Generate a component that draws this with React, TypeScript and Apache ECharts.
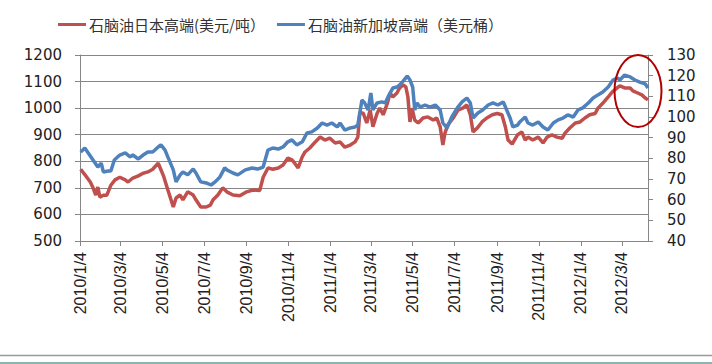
import React, { useEffect, useRef } from "react";
import * as echarts from "echarts";

const legendNames = ["石脑油日本高端(美元/吨）", "石脑油新加坡高端（美元桶）"];

const tickDates = [
  "2010/1/4", "2010/3/4", "2010/5/4", "2010/7/4", "2010/9/4", "2010/11/4",
  "2011/1/4", "2011/3/4", "2011/5/4", "2011/7/4", "2011/9/4", "2011/11/4",
  "2012/1/4", "2012/3/4",
];

const redDates = [
  "2010/01/05","2010/01/11","2010/01/19","2010/01/23","2010/01/27","2010/01/30","2010/02/02","2010/02/07","2010/02/12","2010/02/18",
  "2010/02/24","2010/03/03","2010/03/11","2010/03/15","2010/03/22","2010/03/30","2010/04/06","2010/04/13","2010/04/20","2010/04/28",
  "2010/05/02","2010/05/06","2010/05/12","2010/05/20","2010/05/24","2010/05/30","2010/06/03","2010/06/10","2010/06/18","2010/06/22",
  "2010/06/29","2010/07/07","2010/07/13","2010/07/17","2010/07/24","2010/07/31","2010/08/06","2010/08/15","2010/08/25","2010/09/04",
  "2010/09/13","2010/09/23","2010/09/28","2010/10/05","2010/10/12","2010/10/20","2010/10/27","2010/11/03","2010/11/09","2010/11/13",
  "2010/11/18","2010/11/24","2010/11/28","2010/12/05","2010/12/13","2010/12/20","2010/12/27","2011/01/03","2011/01/11","2011/01/18",
  "2011/01/25","2011/02/02","2011/02/09","2011/02/13","2011/02/16","2011/02/21","2011/02/26","2011/03/03","2011/03/07","2011/03/13",
  "2011/03/17","2011/03/22","2011/03/28","2011/04/01","2011/04/05","2011/04/11","2011/04/15","2011/04/20","2011/04/24","2011/04/27",
  "2011/04/30","2011/05/03","2011/05/07","2011/05/12","2011/05/19","2011/05/26","2011/06/03","2011/06/08","2011/06/13","2011/06/17",
  "2011/06/20","2011/06/24","2011/07/02","2011/07/09","2011/07/16","2011/07/22","2011/07/27","2011/07/31","2011/08/06","2011/08/13",
  "2011/08/20","2011/08/28","2011/09/04","2011/09/11","2011/09/16","2011/09/20","2011/09/26","2011/10/04","2011/10/10","2011/10/15",
  "2011/10/19","2011/10/26","2011/11/03","2011/11/10","2011/11/16","2011/11/23","2011/11/30","2011/12/08","2011/12/12","2011/12/19",
  "2011/12/27","2012/01/03","2012/01/10","2012/01/17","2012/01/25","2012/01/29","2012/02/05","2012/02/13","2012/02/19","2012/02/26",
  "2012/03/01","2012/03/08","2012/03/16","2012/03/20","2012/03/27","2012/04/02","2012/04/07","2012/04/11",
];
const redValues = [
  770,750,722,700,673,703,665,672,672,710,
  730,740,730,722,737,745,755,760,770,793,
  768,743,693,628,662,673,655,685,673,655,
  628,628,635,655,673,700,685,673,670,685,
  692,690,740,775,770,775,786,812,805,793,
  775,817,835,850,873,891,880,887,869,873,
  853,861,873,891,985,980,944,993,930,980,
  1000,975,1018,1057,1042,1057,1076,1087,1080,1042,
  948,1000,955,944,963,967,955,963,930,861,
  906,936,963,993,1000,1012,975,910,925,948,
  963,975,980,975,930,880,865,900,910,880,
  891,880,891,869,891,900,891,887,906,925,
  944,948,963,975,980,1000,1018,1042,1061,1076,
  1084,1076,1076,1065,1057,1050,1038,1031,
];

const blueDates = [
  "2010/01/05","2010/01/11","2010/01/16","2010/01/23","2010/01/30","2010/02/04","2010/02/07","2010/02/14","2010/02/18","2010/02/23",
  "2010/03/03","2010/03/11","2010/03/18","2010/03/22","2010/03/30","2010/04/06","2010/04/13","2010/04/20","2010/04/28","2010/05/02",
  "2010/05/08","2010/05/12","2010/05/20","2010/05/24","2010/05/30","2010/06/03","2010/06/10","2010/06/18","2010/06/22","2010/06/29",
  "2010/07/07","2010/07/14","2010/07/20","2010/07/27","2010/08/03","2010/08/06","2010/08/15","2010/08/22","2010/09/02","2010/09/12",
  "2010/09/20","2010/09/28","2010/10/05","2010/10/12","2010/10/20","2010/10/27","2010/11/03","2010/11/09","2010/11/16","2010/11/24",
  "2010/12/01","2010/12/08","2010/12/16","2010/12/23","2010/12/30","2011/01/06","2011/01/14","2011/01/18","2011/01/25","2011/02/02",
  "2011/02/09","2011/02/13","2011/02/19","2011/02/23","2011/02/28","2011/03/04","2011/03/07","2011/03/13","2011/03/20","2011/03/25",
  "2011/03/29","2011/04/05","2011/04/11","2011/04/15","2011/04/20","2011/04/26","2011/04/30","2011/05/04","2011/05/07","2011/05/10",
  "2011/05/15","2011/05/22","2011/05/29","2011/06/06","2011/06/13","2011/06/17","2011/06/23","2011/06/30","2011/07/08","2011/07/15",
  "2011/07/22","2011/07/27","2011/07/31","2011/08/07","2011/08/14","2011/08/22","2011/08/29","2011/09/05","2011/09/13","2011/09/18",
  "2011/09/23","2011/09/27","2011/10/04","2011/10/07","2011/10/15","2011/10/19","2011/10/26","2011/11/03","2011/11/10","2011/11/17",
  "2011/11/25","2011/12/02","2011/12/09","2011/12/16","2011/12/24","2011/12/31","2012/01/07","2012/01/15","2012/01/22","2012/01/29",
  "2012/02/05","2012/02/13","2012/02/20","2012/02/26","2012/03/01","2012/03/08","2012/03/16","2012/03/23","2012/03/30","2012/04/07",
  "2012/04/11",
];
const blueValues = [
  83,85,82.6,79.2,75.8,77.7,73.4,73.9,73.9,79.2,
  81.6,82.6,80.7,81.6,79.7,81.6,83.1,83.1,85.5,86.5,
  84,80.7,74.4,68.6,72,73.4,72,74.9,72.9,68.6,
  68.1,67.1,68.6,71,75.4,74.4,72.9,72,74.4,75.3,
  74.8,75.8,84,85,84.5,85.5,88,88.9,86.5,88,
  92.3,92.8,94.7,97.1,96.1,97.1,95.2,97.1,93.7,94.7,
  95.2,96.1,108.2,106.8,103.4,111.6,103.4,106.8,107.3,106.8,
  109.7,114,114.5,115.5,117.4,119.8,117.9,114.5,103.4,106.8,
  104.8,105.8,104.8,105.8,103.4,97.1,94.7,100,104.4,107.3,
  109.2,106.8,99.5,101.9,103.4,105.8,106.8,105.8,107.3,103.4,
  99.5,95.2,96.1,97.6,100,97.1,96.1,97.6,95.2,93.7,
  97.1,98.6,99.5,101,100,103.4,104.4,106.8,109.2,110.7,
  112.1,114.5,117.9,118.9,117.9,120.3,119.4,117.9,116.9,116,
  114,
];

const leftMin = 500, leftMax = 1200, leftStep = 100;
const rightMin = 40, rightMax = 130, rightStep = 10;
const xStart = "2010/01/04";
const xEnd = "2012/04/11";

function toTime(s: string) {
  const [y, m, d] = s.split("/").map(Number);
  return new Date(y, m - 1, d).getTime();
}

export default function App() {
  const ref = useRef<HTMLDivElement>(null);
  useEffect(() => {
    document.body.style.margin = "0";
    const chart = echarts.init(ref.current!, null, { renderer: "svg" });
    const tickValues = tickDates.map(toTime);
    const axisColor = "#868686";
    chart.setOption({
      animation: false,
      backgroundColor: "#ffffff",
      legend: {
        left: 53,
        top: 12,
        itemWidth: 28,
        itemHeight: 3,
        itemGap: 12,
        icon: "rect",
        textStyle: { fontFamily: "Noto Sans CJK SC", fontSize: 15, color: "#333333", padding: [0, 0, 0, -2] },
        data: legendNames,
      },
      grid: { left: 80, right: 64, top: 55, bottom: 123, containLabel: false },
      xAxis: {
        type: "value",
        min: toTime(xStart),
        max: toTime(xEnd),
        axisLine: { show: true, onZero: false, lineStyle: { color: axisColor } },
        axisTick: { show: true, length: 5, customValues: tickValues, lineStyle: { color: axisColor } },
        axisLabel: {
          customValues: tickValues,
          rotate: 90,
          margin: 11,
          fontFamily: "Liberation Sans",
          fontSize: 16,
          color: "#222222",
          formatter: (v: number) => {
            const d = new Date(v);
            return `${d.getFullYear()}/${d.getMonth() + 1}/${d.getDate()}`;
          },
        },
        splitLine: { show: false },
      },
      yAxis: [
        {
          type: "value",
          min: leftMin,
          max: leftMax,
          interval: leftStep,
          axisLine: { show: true, lineStyle: { color: axisColor } },
          axisTick: { show: true, length: 5, lineStyle: { color: axisColor } },
          axisLabel: { margin: 18, fontFamily: "DejaVu Sans", fontSize: 15, color: "#222222", formatter: (v: number) => String(v) },
          splitLine: { show: true, lineStyle: { color: axisColor, width: 1 } },
        },
        {
          type: "value",
          min: rightMin,
          max: rightMax,
          interval: rightStep,
          position: "right",
          axisLine: { show: true, lineStyle: { color: axisColor } },
          axisTick: { show: true, length: 5, lineStyle: { color: axisColor } },
          axisLabel: { margin: 19, fontFamily: "DejaVu Sans", fontSize: 15, color: "#222222", formatter: (v: number) => String(v) },
          splitLine: { show: false },
        },
      ],
      series: [
        {
          name: legendNames[0],
          type: "line",
          yAxisIndex: 0,
          showSymbol: false,
          color: "#C0504D",
          lineStyle: { width: 3.5, color: "#C0504D" },
          data: redDates.map((d, i) => [toTime(d), redValues[i]]),
        },
        {
          name: legendNames[1],
          type: "line",
          yAxisIndex: 1,
          showSymbol: false,
          color: "#4F81BD",
          lineStyle: { width: 3.5, color: "#4F81BD" },
          data: blueDates.map((d, i) => [toTime(d), blueValues[i]]),
        },
      ],
      graphic: [
        {
          type: "ellipse",
          shape: { cx: 638, cy: 91, rx: 23.5, ry: 36 },
          style: { fill: "none", stroke: "#B00000", lineWidth: 2 },
          z: 100,
        },
        {
          type: "line",
          shape: { x1: 0, y1: 355.5, x2: 712, y2: 355.5 },
          style: { stroke: "#9a9a9a", lineWidth: 1.5 },
        },
        {
          type: "line",
          shape: { x1: 0, y1: 363, x2: 712, y2: 363 },
          style: { stroke: "#8db5b0", lineWidth: 2 },
        },
      ],
    });
    return () => chart.dispose();
  }, []);
  return <div ref={ref} style={{ width: 712, height: 364 }} />;
}
